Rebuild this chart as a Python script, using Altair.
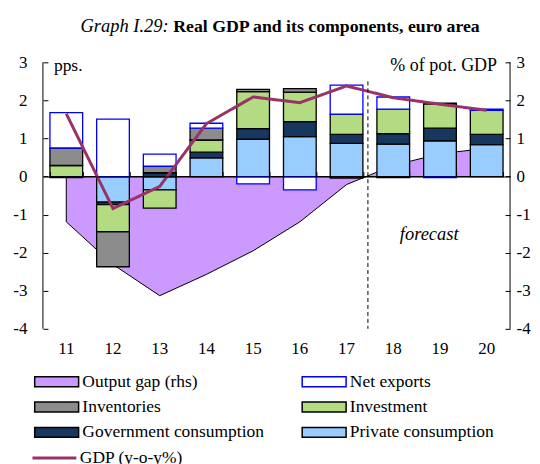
import altair as alt
import pandas as pd

SERIF = "Liberation Serif"

years = ["11", "12", "13", "14", "15", "16", "17", "18", "19", "20"]
private_cons = [0.00, -0.67, -0.35, 0.49, 0.98, 1.05, 0.87, 0.85, 0.94, 0.84]
gov_cons = [-0.03, -0.07, 0.10, 0.15, 0.28, 0.39, 0.24, 0.28, 0.33, 0.27]
investment = [0.29, -0.71, -0.48, 0.32, 0.97, 0.78, 0.53, 0.64, 0.64, 0.63]
inventories = [0.46, -0.92, 0.17, 0.31, 0.06, 0.09, -0.04, -0.03, 0.02, 0.00]
net_exports = [0.93, 1.51, 0.32, 0.13, -0.19, -0.35, 0.76, 0.32, -0.03, 0.03]
gdp = [1.65, -0.84, -0.26, 1.39, 2.09, 1.94, 2.38, 2.07, 1.90, 1.74]
output_gap = [-1.19, -2.31, -3.13, -2.57, -1.95, -1.19, -0.21, 0.29, 0.60, 0.74]

# legend order (filled column by column)
series_names = ["Output gap (rhs)", "Inventories", "Government consumption",
                "Net exports", "Investment", "Private consumption"]
fill_colors = ["#CC99FF", "#8C8C8C", "#17375E", "#FFFFFF", "#B3DB82", "#99CCFF"]
stroke_colors = ["#000000", "#000000", "#000000", "#0000FF", "#000000", "#000000"]
gdp_label = "GDP (y-o-y%)"
y_ticks = [3, 2, 1, 0, -1, -2, -3, -4]

title_italic = ["Graph I.29:"]
title_bold = ["Real GDP and its components, euro area"]
left_unit = ["pps."]
right_unit = ["% of pot. GDP"]
forecast_label = ["forecast"]
dash_top = [2.5]
dash_bottom = [-4]
frame_top = [3]
frame_bottom = [-4]

W, H = 468, 267

stack_series = [("Private consumption", private_cons), ("Government consumption", gov_cons),
                ("Investment", investment), ("Inventories", inventories),
                ("Net exports", net_exports)]
rows = []
for k, (name, vals) in enumerate(stack_series):
    for yr, v in zip(years, vals):
        rows.append({"year": yr, "series": name, "value": v, "ord": k})
bars_df = pd.DataFrame(rows)
gap_df = pd.DataFrame({"year": years, "gap": output_gap, "series": "Output gap (rhs)"})
gdp_df = pd.DataFrame({"year": years, "gdp": gdp, "name": gdp_label})

x_scale = alt.Scale(domain=years, paddingInner=0.3, paddingOuter=0.15)
y_scale = alt.Scale(domain=[-4, 3], nice=False, zero=False)
fill_scale = alt.Scale(domain=series_names, range=fill_colors)
stroke_scale = alt.Scale(domain=series_names, range=stroke_colors)

legend = alt.Legend(title=None, orient="none", legendX=5, legendY=311, columns=2,
                    columnPadding=34, rowPadding=6.5,
                    symbolType="M-4.4,-1H4.4V1H-4.4Z", symbolSize=100,
                    symbolStrokeWidth=1.5, labelFont=SERIF, labelFontSize=17.5,
                    labelColor="black", labelOffset=17, labelLimit=0)
gdp_legend = alt.Legend(title=None, orient="none", legendX=-12, legendY=373,
                        symbolType="stroke", symbolSize=1936, symbolStrokeWidth=3,
                        symbolStrokeColor="#993366", labelFont=SERIF, labelFontSize=17.5,
                        labelColor="black", labelOffset=2, labelLimit=0)

axis_common = dict(labelFont=SERIF, labelFontSize=17, labelColor="black", title=None, grid=False)

area = alt.Chart(gap_df).mark_area(strokeWidth=1, opacity=1).encode(
    x=alt.X("year:N", sort=years, scale=x_scale,
            axis=alt.Axis(orient="bottom", domain=False, ticks=False, tickSize=0,
                          labelPadding=12, labelAngle=0, **axis_common)),
    y=alt.Y("gap:Q", scale=y_scale,
            axis=alt.Axis(orient="right", values=y_ticks, offset=-5, tickSize=5,
                          tickColor="black", domain=False, labelPadding=6,
                          labelExpr="'' + datum.value", **axis_common)),
    fill=alt.Fill("series:N", scale=fill_scale, legend=legend),
    stroke=alt.Stroke("series:N", scale=stroke_scale, legend=legend),
)

bars = alt.Chart(bars_df).mark_bar(strokeWidth=1.3, opacity=1).encode(
    x=alt.X("year:N", sort=years, scale=x_scale, axis=None),
    y=alt.Y("value:Q", stack="zero", scale=y_scale,
            axis=alt.Axis(orient="left", values=y_ticks, offset=-5, tickSize=5,
                          tickColor="black", domain=False, labelPadding=16,
                          labelExpr="'' + datum.value", **axis_common)),
    fill=alt.Fill("series:N", scale=fill_scale, legend=legend),
    stroke=alt.Stroke("series:N", scale=stroke_scale, legend=legend),
    order=alt.Order("ord:Q", sort="ascending"),
)

line = alt.Chart(gdp_df).mark_line(color="#993366", strokeWidth=3).encode(
    x=alt.X("year:N", sort=years, scale=x_scale,
            axis=alt.Axis(orient="top", offset=-H * 3 / 7, labels=False, tickBand="extent",
                          tickSize=5, tickColor="black", domainColor="black", zindex=1,
                          title=None, grid=False)),
    y=alt.Y("gdp:Q", scale=y_scale, axis=None),
    strokeDash=alt.StrokeDash("name:N", scale=alt.Scale(domain=[gdp_label], range=[[1, 0]]),
                              legend=gdp_legend),
)

frame_df = pd.DataFrame({"top": frame_top, "bottom": frame_bottom})
left_frame = alt.Chart(frame_df).mark_rule(color="black", strokeWidth=1).encode(
    x=alt.value(0), y=alt.Y("top:Q", scale=y_scale, axis=None), y2="bottom:Q")
right_frame = alt.Chart(frame_df).mark_rule(color="black", strokeWidth=1).encode(
    x=alt.value(W), y=alt.Y("top:Q", scale=y_scale, axis=None), y2="bottom:Q")

dash_df = pd.DataFrame({"top": dash_top, "bottom": dash_bottom})
dash = alt.Chart(dash_df).mark_rule(color="black", strokeWidth=1, strokeDash=[4, 3]).encode(
    x=alt.value(W * 0.7 - 2), y=alt.Y("top:Q", scale=y_scale, axis=None), y2="bottom:Q")


def label(texts, x, y, align, size=17.5, style="normal", weight="normal"):
    return alt.Chart(pd.DataFrame({"t": texts})).mark_text(
        align=align, baseline="alphabetic", font=SERIF, fontSize=size,
        fontStyle=style, fontWeight=weight, color="black").encode(
        x=alt.value(x), y=alt.value(y), text="t:N")


texts = [
    label(title_italic, 126, -30, "right", size=18.5, style="italic"),
    label(title_bold, 130.5, -30, "left", size=17.8, weight="bold"),
    label(left_unit, 11, 9, "left"),
    label(right_unit, 455, 9, "right", size=18),
    label(forecast_label, 387, 178, "center", size=18.5, style="italic"),
]

chart = alt.layer(area, bars, line, left_frame, right_frame, dash, *texts).resolve_axis(
    x="independent", y="independent"
).properties(
    width=W, height=H, padding={"left": 4, "top": 9, "right": 1, "bottom": 0}
).configure_view(stroke=None)

chart.save("out.html", embed_options={"renderer": "svg", "actions": False})
